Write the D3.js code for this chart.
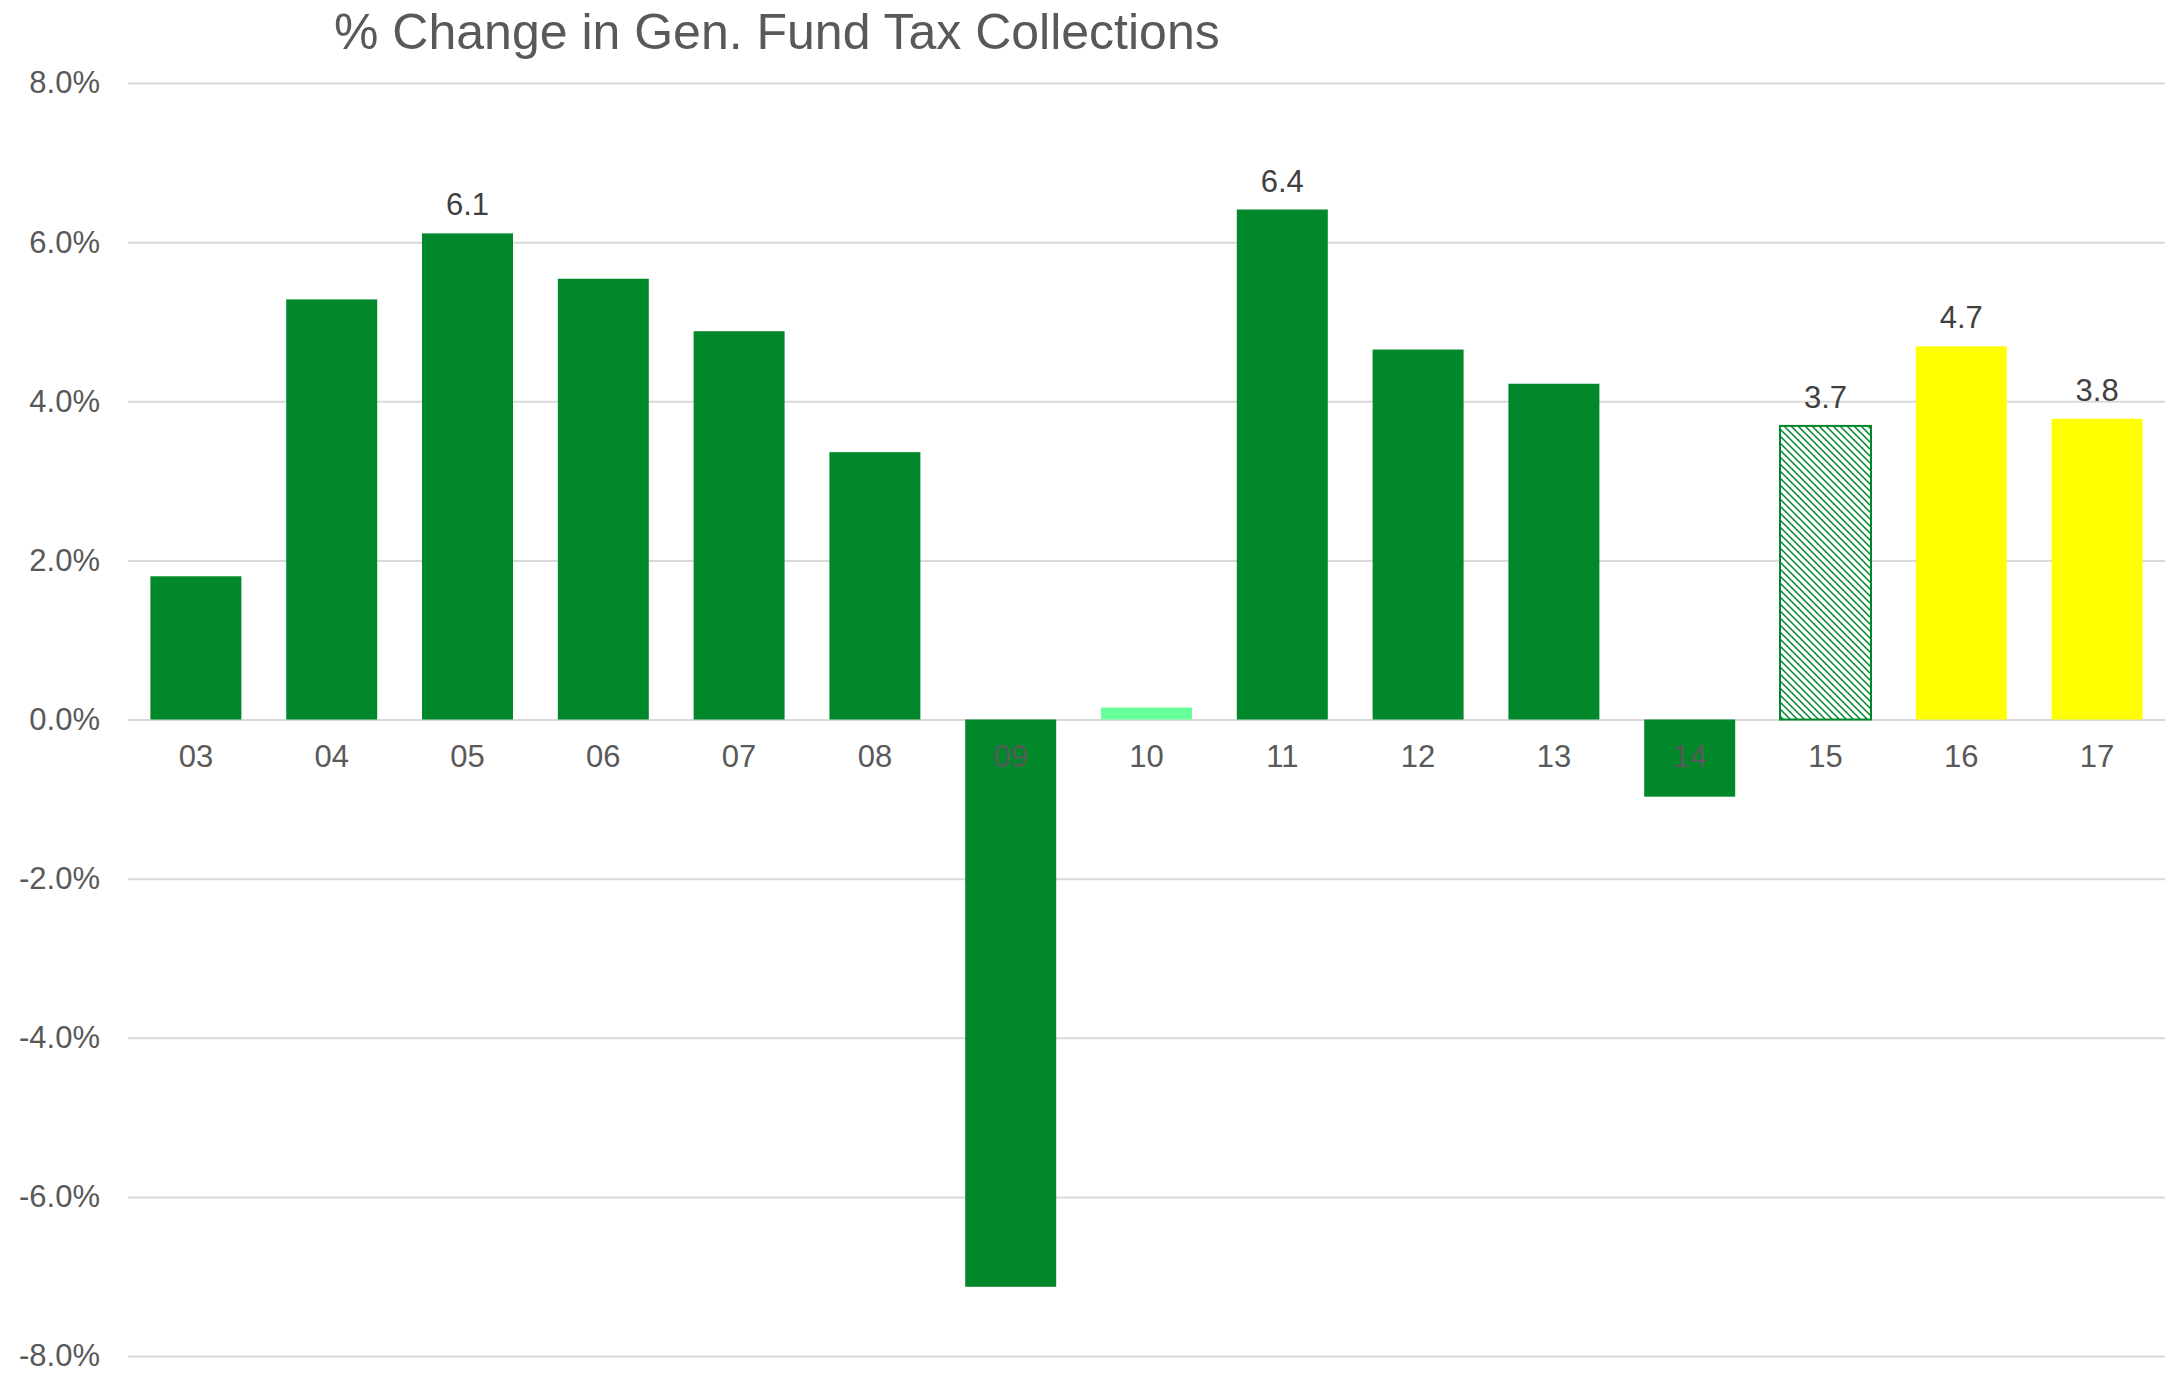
<!DOCTYPE html>
<html>
<head>
<meta charset="utf-8">
<script src="https://cdn.jsdelivr.net/npm/d3@7"></script>
<style>
  body { margin: 0; background: #fff; }
  text { font-family: "Liberation Sans", Arial, sans-serif; }
</style>
</head>
<body>
<div id="chart"></div>
<script>
// fiscal years and % change in general fund tax collections
const years = ["03", "04", "05", "06", "07", "08", "09", "10", "11", "12", "13", "14", "15", "16", "17"];
const changes = [1.8, 5.28, 6.11, 5.54, 4.88, 3.36, -7.13, 0.15, 6.41, 4.65, 4.22, -0.97, 3.69, 4.69, 3.78];
// bar style: actual, partial, estimate (hatched), forecast
const kinds = ["actual", "actual", "actual", "actual", "actual", "actual", "actual", "partial", "actual", "actual", "actual", "actual", "estimate", "forecast", "forecast"];
const labeledYears = ["05", "11", "15", "16", "17"];
const yTicks = [-8, -6, -4, -2, 0, 2, 4, 6, 8];

const width = 2171, height = 1374;
const margin = {top: 83, right: 6, bottom: 18, left: 128};

const fillColour = {
  actual: "#00882b",
  partial: "#66ff99",
  estimate: "url(#hatch)",
  forecast: "#ffff00"
};

const data = years.map((y, i) => ({year: y, value: changes[i], kind: kinds[i]}));

const svg = d3.select("#chart")
  .append("svg")
  .attr("width", width)
  .attr("height", height);

// hatch pattern for the estimate bar
const pattern = svg.append("defs")
  .append("pattern")
  .attr("id", "hatch")
  .attr("patternUnits", "userSpaceOnUse")
  .attr("width", 7)
  .attr("height", 7);
pattern.append("rect").attr("width", 7).attr("height", 7).attr("fill", "#fff");
pattern.append("path")
  .attr("d", "M-1,-1 L8,8 M-8,-1 L1,8 M6,-1 L15,8")
  .attr("stroke", "#00882b")
  .attr("stroke-width", 1.5);

const x = d3.scaleBand()
  .domain(years)
  .range([margin.left, width - margin.right])
  .paddingInner(0.33)
  .paddingOuter(0.165);

const y = d3.scaleLinear()
  .domain([-8, 8])
  .range([height - margin.bottom, margin.top]);

// gridlines + y labels
const yAxis = svg.append("g")
  .attr("transform", `translate(${margin.left},0)`)
  .call(d3.axisLeft(y)
    .tickValues(yTicks)
    .tickSize(-(width - margin.right - margin.left))
    .tickPadding(28)
    .tickFormat(d => d.toFixed(1) + "%"));
yAxis.select(".domain").remove();
yAxis.selectAll("line")
  .attr("stroke", "#d9d9d9")
  .attr("stroke-width", 2);
yAxis.selectAll("text")
  .attr("fill", "#595959")
  .attr("font-size", 31);

// bars
svg.append("g")
  .selectAll("rect")
  .data(data)
  .join("rect")
  .attr("x", d => x(d.year))
  .attr("width", x.bandwidth())
  .attr("y", d => y(Math.max(0, d.value)))
  .attr("height", d => Math.abs(y(d.value) - y(0)))
  .attr("fill", d => fillColour[d.kind])
  .attr("stroke", d => d.kind === "estimate" ? "#00882b" : "none")
  .attr("stroke-width", 2);

// category labels just below the zero line
const xAxis = svg.append("g")
  .attr("transform", `translate(0,${y(0)})`)
  .call(d3.axisBottom(x).tickSize(0).tickPadding(25));
xAxis.select(".domain").remove();
xAxis.selectAll("text")
  .attr("fill", "#595959")
  .attr("font-size", 31);

// value labels
svg.append("g")
  .selectAll("text")
  .data(data.filter(d => labeledYears.includes(d.year)))
  .join("text")
  .attr("x", d => x(d.year) + x.bandwidth() / 2)
  .attr("y", d => y(d.value) - 18)
  .attr("text-anchor", "middle")
  .attr("fill", "#404040")
  .attr("font-size", 31)
  .text(d => d.value.toFixed(1));

// title
svg.append("text")
  .attr("x", 334)
  .attr("y", 49)
  .attr("fill", "#595959")
  .attr("font-size", 50)
  .text("% Change in Gen. Fund Tax Collections");
</script>
</body>
</html>
